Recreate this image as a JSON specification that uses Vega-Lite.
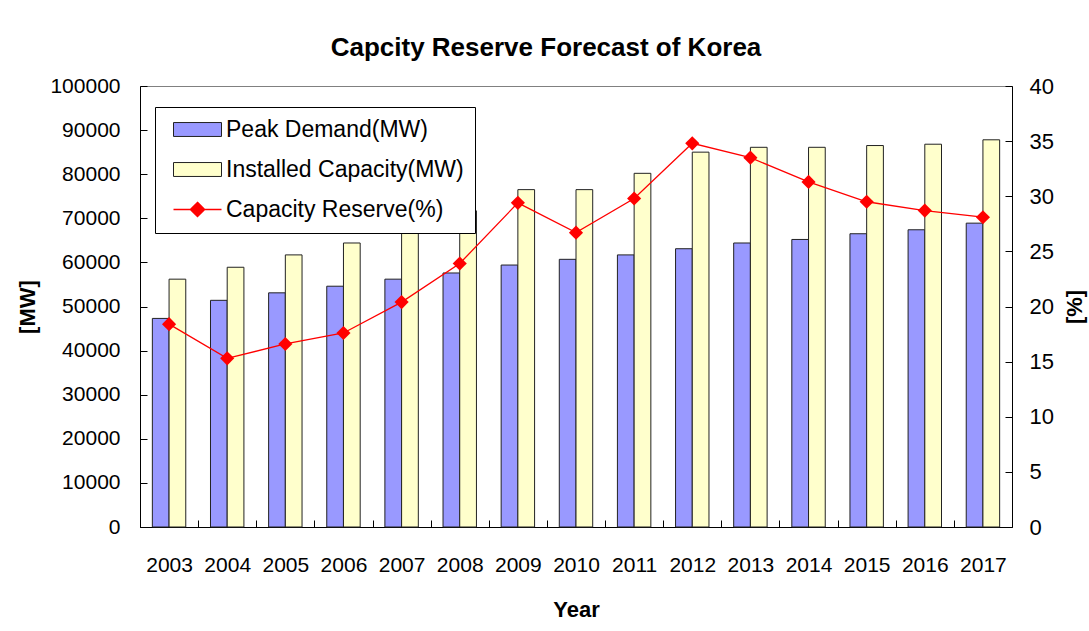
{
  "$schema": "https://vega.github.io/schema/vega-lite/v6.json",
  "width": 872,
  "height": 441,
  "autosize": {"type": "none"},
  "padding": {"left": 140, "top": 86, "right": 77, "bottom": 104},
  "background": "white",
  "title": {"text": "Capcity Reserve Forecast of Korea", "fontSize": 26, "font": "Liberation Sans", "fontWeight": "bold", "color": "black", "anchor": "middle", "dx": -30, "offset": 14},
  "config": {"view": {"stroke": "#808080", "strokeWidth": 1}, "font": "Liberation Sans"},
  "datasets": {
    "bars": [
      {"year": 2003, "series": "Peak Demand(MW)", "value": 47300},
      {"year": 2004, "series": "Peak Demand(MW)", "value": 51400},
      {"year": 2005, "series": "Peak Demand(MW)", "value": 53100},
      {"year": 2006, "series": "Peak Demand(MW)", "value": 54600},
      {"year": 2007, "series": "Peak Demand(MW)", "value": 56200},
      {"year": 2008, "series": "Peak Demand(MW)", "value": 57600},
      {"year": 2009, "series": "Peak Demand(MW)", "value": 59400},
      {"year": 2010, "series": "Peak Demand(MW)", "value": 60700},
      {"year": 2011, "series": "Peak Demand(MW)", "value": 61700},
      {"year": 2012, "series": "Peak Demand(MW)", "value": 63100},
      {"year": 2013, "series": "Peak Demand(MW)", "value": 64400},
      {"year": 2014, "series": "Peak Demand(MW)", "value": 65200},
      {"year": 2015, "series": "Peak Demand(MW)", "value": 66500},
      {"year": 2016, "series": "Peak Demand(MW)", "value": 67400},
      {"year": 2017, "series": "Peak Demand(MW)", "value": 68900},
      {"year": 2003, "series": "Installed Capacity(MW)", "value": 56200},
      {"year": 2004, "series": "Installed Capacity(MW)", "value": 58900},
      {"year": 2005, "series": "Installed Capacity(MW)", "value": 61700},
      {"year": 2006, "series": "Installed Capacity(MW)", "value": 64400},
      {"year": 2007, "series": "Installed Capacity(MW)", "value": 67600},
      {"year": 2008, "series": "Installed Capacity(MW)", "value": 71700},
      {"year": 2009, "series": "Installed Capacity(MW)", "value": 76500},
      {"year": 2010, "series": "Installed Capacity(MW)", "value": 76500},
      {"year": 2011, "series": "Installed Capacity(MW)", "value": 80200},
      {"year": 2012, "series": "Installed Capacity(MW)", "value": 85000},
      {"year": 2013, "series": "Installed Capacity(MW)", "value": 86100},
      {"year": 2014, "series": "Installed Capacity(MW)", "value": 86100},
      {"year": 2015, "series": "Installed Capacity(MW)", "value": 86500},
      {"year": 2016, "series": "Installed Capacity(MW)", "value": 86800},
      {"year": 2017, "series": "Installed Capacity(MW)", "value": 87800}
    ],
    "reserve": [
      {"year": 2003, "reserve": 18.4},
      {"year": 2004, "reserve": 15.3},
      {"year": 2005, "reserve": 16.6},
      {"year": 2006, "reserve": 17.6},
      {"year": 2007, "reserve": 20.4},
      {"year": 2008, "reserve": 23.9},
      {"year": 2009, "reserve": 29.4},
      {"year": 2010, "reserve": 26.7},
      {"year": 2011, "reserve": 29.8},
      {"year": 2012, "reserve": 34.8},
      {"year": 2013, "reserve": 33.5},
      {"year": 2014, "reserve": 31.3},
      {"year": 2015, "reserve": 29.5},
      {"year": 2016, "reserve": 28.7},
      {"year": 2017, "reserve": 28.1}
    ]
  },
  "layer": [
    {
      "data": {"name": "bars"},
      "mark": {"type": "bar", "stroke": "#222222", "strokeWidth": 1},
      "encoding": {
        "x": {
          "field": "year", "type": "ordinal",
          "scale": {"paddingInner": 0.425, "paddingOuter": 0.2125},
          "axis": {
            "title": "Year", "titleFontSize": 22, "titleFontWeight": "bold", "titleColor": "black", "titlePadding": 24,
            "labelAngle": 0, "labelFontSize": 21, "labelColor": "black", "labelPadding": 34,
            "tickSize": -7, "tickColor": "black", "tickOffset": -29.07, "labelOffset": 29.07,
            "domainColor": "black", "grid": false
          }
        },
        "xOffset": {"field": "series", "type": "nominal", "scale": {"domain": ["Peak Demand(MW)", "Installed Capacity(MW)"], "paddingInner": 0, "paddingOuter": 0}},
        "y": {
          "field": "value", "type": "quantitative",
          "scale": {"domain": [0, 100000], "nice": false},
          "axis": {
            "title": "[MW]", "titleFontSize": 22, "titleFontWeight": "bold", "titleColor": "black", "titlePadding": 10,
            "values": [0, 10000, 20000, 30000, 40000, 50000, 60000, 70000, 80000, 90000, 100000],
            "format": "d", "labelFontSize": 21, "labelColor": "black", "labelPadding": 27,
            "tickSize": -7, "tickColor": "black", "domainColor": "black", "grid": false
          }
        },
        "color": {
          "field": "series", "type": "nominal",
          "scale": {"domain": ["Peak Demand(MW)", "Installed Capacity(MW)", "Capacity Reserve(%)"], "range": ["#9999FF", "#FFFFCC", "#FF0000"]},
          "legend": {
            "orient": "none", "legendX": 15, "legendY": 21, "title": null,
            "strokeColor": "black", "fillColor": "white", "padding": 11,
            "labelFontSize": 23, "labelFont": "Liberation Sans", "labelColor": "black", "labelLimit": 400,
            "symbolSize": 2304, "symbolType": "M-1,-0.29L1,-0.29L1,0.29L-1,0.29Z",
            "rowPadding": 16, "labelOffset": 17, "symbolOffset": 20, "symbolStrokeWidth": 1, "symbolStrokeColor": "#222222", "symbolOpacity": 1,
            "encoding": {
              "symbols": {
                "shape": {"value": {"expr": "datum.label === 'Capacity Reserve(%)' ? 'M-1,0L1,0M0,-0.3L0.3,0L0,0.3L-0.3,0Z' : 'M-1,-0.29L1,-0.29L1,0.29L-1,0.29Z'"}},
                "stroke": {"value": {"expr": "datum.label === 'Capacity Reserve(%)' ? '#FF0000' : '#222222'"}},
                "strokeWidth": {"value": {"expr": "datum.label === 'Capacity Reserve(%)' ? 1.3 : 1"}}
              }
            }
          }
        }
      }
    },
    {
      "data": {"name": "reserve"},
      "mark": {"type": "line", "color": "#FF0000", "strokeWidth": 1.3, "point": {"shape": "diamond", "size": 200, "filled": true, "color": "#FF0000", "opacity": 1}},
      "encoding": {
        "x": {"field": "year", "type": "ordinal"},
        "y": {
          "field": "reserve", "type": "quantitative",
          "scale": {"domain": [0, 40], "nice": false},
          "axis": {
            "orient": "right", "title": "[%]", "titleFontSize": 22, "titleFontWeight": "bold", "titleColor": "black", "titlePadding": 33, "titleAngle": -90,
            "values": [0, 5, 10, 15, 20, 25, 30, 35, 40],
            "labelFontSize": 22, "labelColor": "black", "labelPadding": 24,
            "tickSize": -7, "tickColor": "black", "domainColor": "black", "grid": false
          }
        }
      }
    }
  ],
  "resolve": {"scale": {"y": "independent"}}
}
